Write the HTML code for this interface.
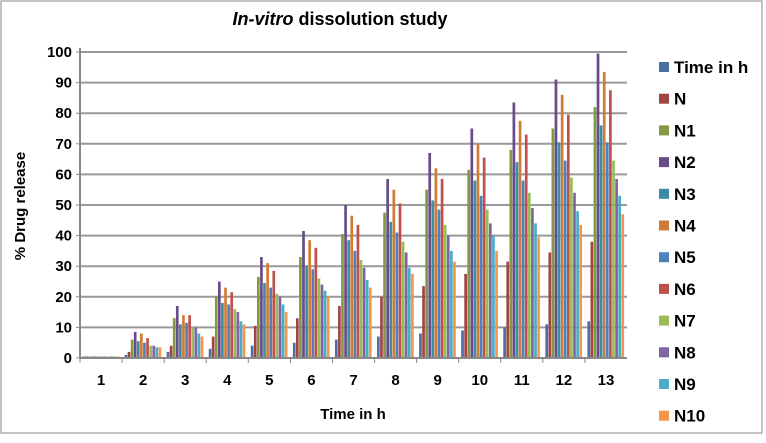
<!DOCTYPE html>
<html><head><meta charset="utf-8"><style>
body{margin:0;background:#fff;}
svg text{font-family:"Liberation Sans",sans-serif;}
</style></head><body>
<svg id="chart" width="766" height="438" viewBox="0 0 766 438" xmlns="http://www.w3.org/2000/svg">
<rect x="1" y="1" width="761" height="432" fill="#fff" stroke="#888" stroke-width="1"/>
<text x="340" y="25" text-anchor="middle" font-size="18" font-weight="bold"><tspan font-style="italic">In-vitro</tspan> dissolution study</text>
<text transform="translate(25,206) rotate(-90)" text-anchor="middle" font-size="15" font-weight="bold">% Drug release</text>
<text x="353" y="419" text-anchor="middle" font-size="15" font-weight="bold">Time in h</text>
<g id="grid"></g><g id="bars"></g><g id="axes"></g><g id="legend"></g>
</svg>
<script>
const categories=["1","2","3","4","5","6","7","8","9","10","11","12","13"];
const seriesNames=["Time in h","N","N1","N2","N3","N4","N5","N6","N7","N8","N9","N10"];
const yTicks=[0,10,20,30,40,50,60,70,80,90,100];
const sTime=[0.5,1,2,3,4,5,6,7,8,9,10,11,12];
const sN=[0.5,2,4,7,10.5,13,17,20,23.5,27.5,31.5,34.5,38];
const sN1=[0.5,6,13,20,26.5,33,40.5,47.5,55,61.5,68,75,82];
const sN2=[0.5,8.5,17,25,33,41.5,50,58.5,67,75,83.5,91,99.5];
const sN3=[0.5,5.5,11,18,24.5,30,38.5,44.5,51.5,58,64,70.5,76];
const sN4=[0.5,8,14,23,31,38.5,46.5,55,62,70,77.5,86,93.5];
const sN5=[0.5,5,11.5,17.5,23,29,35,41,48.5,53,58,64.5,70.5];
const sN6=[0.5,6.5,14,21.5,28.5,36,43.5,50.5,58.5,65.5,73,79.5,87.5];
const sN7=[0.5,4,10,16,21,26,32,38,43.5,48.5,54,59,64.5];
const sN8=[0.5,4,10,15,20,24,29.5,34.5,40,44,49,54,58.5];
const sN9=[0.5,3.5,8,12,17.5,22,25.5,29.5,35,40,44,48,53];
const sN10=[0.5,3.5,7,11,15,20,23,27.5,31.5,35,39.5,43.5,47];
const allSeries=[sTime,sN,sN1,sN2,sN3,sN4,sN5,sN6,sN7,sN8,sN9,sN10];
const colors=["#4A6FA0","#A04444","#82993F","#664D88","#3B8EA5","#D07C37","#4F81BD","#C0504D","#9BBB59","#8064A2","#4BACC6","#F79646"];
const NS="http://www.w3.org/2000/svg";
const L=80,R=627,T=52,B=358,yMax=100;
const y=v=>B-(v/yMax)*(B-T);
const gw=(R-L)/categories.length;
const x=i=>L+i*gw;
function mk(tag,attrs,parent){const e=document.createElementNS(NS,tag);for(const k in attrs)e.setAttribute(k,attrs[k]);parent.appendChild(e);return e;}
const grid=document.getElementById('grid'),bars=document.getElementById('bars'),axes=document.getElementById('axes'),legend=document.getElementById('legend');
yTicks.forEach(t=>{
  const l=mk('line',{x1:L,x2:R,y1:y(t),y2:y(t),stroke:'#999','stroke-width':2},grid);
  
  
  const tk=mk('line',{x1:L-4,x2:L,y1:y(t),y2:y(t),stroke:'#888'},axes);
  
  
  const tx=mk('text',{x:L-8,y:y(t)+5,'text-anchor':'end','font-size':15,'font-weight':'bold'},axes);
  tx.textContent=t;
  
  
});
const ya=mk('line',{x1:L,x2:L,y1:T-4,y2:B,stroke:'#888','stroke-width':2},axes);


const xa=mk('line',{x1:L,x2:R,y1:B,y2:B,stroke:'#888','stroke-width':2},axes);


const bw=(gw-5)/allSeries.length;
categories.forEach((c,i)=>{
  const tk=mk('line',{x1:x(i),x2:x(i),y1:B,y2:B+5,stroke:'#888'},axes);
  
  
  const tx=mk('text',{x:x(i)+gw/2,y:B+27,'text-anchor':'middle','font-size':15,'font-weight':'bold'},axes);
  tx.textContent=c;
  
  
  allSeries.forEach((s,j)=>{
    const bx=x(i)+2.5+j*bw;
    const r=mk('rect',{x:bx,y:y(s[i]),width:bw-0.4,height:B-y(s[i]),fill:colors[j]},bars);
    
    
  });
});
seriesNames.forEach((n,j)=>{
  const yy=67+j*31.7;
  const sq=mk('rect',{x:659,y:yy-5,width:10,height:10,fill:colors[j]},legend);
  
  
  const tx=mk('text',{x:674,y:yy+6,'font-size':17,'font-weight':'bold'},legend);
  tx.textContent=n;
  
  
});
</script>
</body></html>
